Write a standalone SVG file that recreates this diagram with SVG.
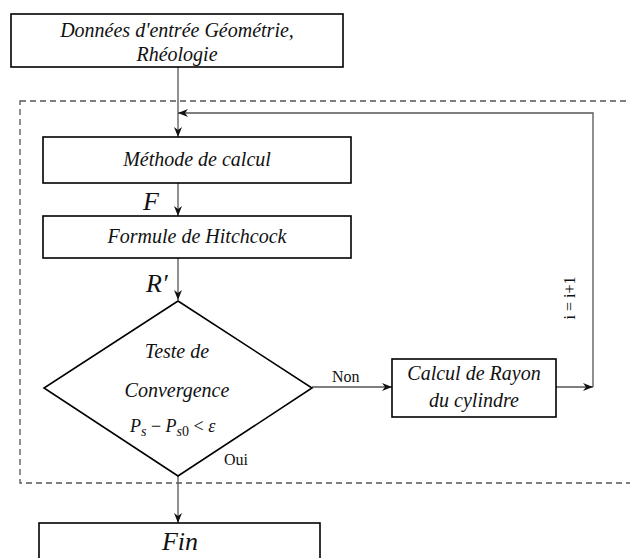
<svg xmlns="http://www.w3.org/2000/svg" width="630" height="558" viewBox="0 0 630 558">
<defs>
<marker id="arr" markerUnits="userSpaceOnUse" markerWidth="10" markerHeight="8" refX="10" refY="4" orient="auto">
<path d="M0,0 L10,4 L0,8 L3,4 z" fill="#111"/>
</marker>
<style>
.box{fill:#fff;stroke:#000;stroke-width:1.6}
.t{font-family:"Liberation Serif","Times New Roman",serif;font-style:italic;font-size:20px;fill:#111;text-anchor:middle}
.big{font-family:"Liberation Serif","Times New Roman",serif;font-style:italic;font-size:26px;fill:#111}
.lab{font-family:"Liberation Serif","Times New Roman",serif;font-size:16px;fill:#111}
.c{fill:none;stroke:#555;stroke-width:1.3}
.m{font-family:"Liberation Serif","Times New Roman",serif;font-size:18px;fill:#111}
</style>
</defs>
<rect width="630" height="558" fill="#fff"/>
<rect id="loop-frame" x="20" y="101" width="630" height="382" fill="none" stroke="#555" stroke-width="1.3" stroke-dasharray="6,4"/>
<g id="connectors">
<line class="c" x1="178" y1="67" x2="178" y2="137" marker-end="url(#arr)" stroke="#111"/>
<line class="c" x1="178" y1="183" x2="178" y2="216" marker-end="url(#arr)"/>
<line class="c" x1="178" y1="258" x2="178" y2="300" marker-end="url(#arr)"/>
<line class="c" x1="312" y1="387" x2="392" y2="387" marker-end="url(#arr)"/>
<line class="c" x1="556" y1="387" x2="593" y2="387" marker-end="url(#arr)"/>
<polyline class="c" points="593,387 593,113 178,113" marker-end="url(#arr)"/>
<line class="c" x1="178" y1="476" x2="178" y2="523" marker-end="url(#arr)"/>
<text class="lab" x="332" y="382">Non</text>
<text class="lab" x="224" y="465">Oui</text>
<text class="lab" transform="translate(575,298) rotate(-90)" text-anchor="middle">i = i+1</text>
<text class="big" x="143" y="210">F</text>
<text class="big" x="146" y="292">R′</text>
</g>
<g id="input">
<rect class="box" x="11" y="14" width="332" height="53"/>
<text class="t" x="177" y="37">Données d'entrée Géométrie,</text>
<text class="t" x="177" y="61">Rhéologie</text>
</g>
<g id="methode">
<rect class="box" x="43" y="137" width="308" height="46"/>
<text class="t" x="197" y="166">Méthode de calcul</text>
</g>
<g id="hitchcock">
<rect class="box" x="43" y="216" width="308" height="42"/>
<text class="t" x="197" y="243">Formule de Hitchcock</text>
</g>
<g id="convergence">
<polygon class="box" points="178,301 312,388 178,476 44,388"/>
<text class="t" x="177" y="358">Teste de</text>
<text class="t" x="177" y="397">Convergence</text>
<text class="m" x="130" y="432"><tspan font-style="italic">P</tspan><tspan font-style="italic" font-size="14" dy="4">s</tspan><tspan dy="-4"> − </tspan><tspan font-style="italic">P</tspan><tspan font-style="italic" font-size="14" dy="4">s</tspan><tspan font-size="14">0</tspan><tspan dy="-4"> &lt; </tspan><tspan font-style="italic">ε</tspan></text>
</g>
<g id="rayon">
<rect class="box" x="392" y="359" width="164" height="58"/>
<text class="t" x="474" y="380">Calcul de Rayon</text>
<text class="t" x="474" y="407">du cylindre</text>
</g>
<g id="fin">
<rect class="box" x="39" y="523" width="281" height="50"/>
<text class="big" x="180" y="550" text-anchor="middle" font-size="25">Fin</text>
</g>
</svg>
